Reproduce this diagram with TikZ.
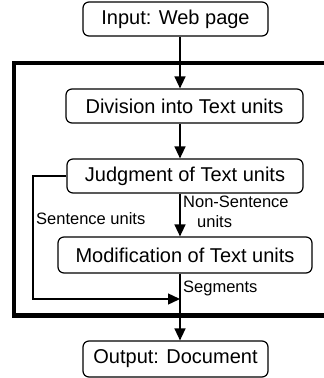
\documentclass[tikz,border=0pt]{standalone}
\usepackage{fontspec}
\setmainfont{Liberation Sans}
\usetikzlibrary{positioning,arrows.meta}

\tikzset{
  stage/.style={draw, rounded corners=6pt, line width=1.2pt, minimum height=34pt,
    inner sep=0pt, font=\fontsize{20}{24}\selectfont},
  flow/.style={line width=1.4pt, -{Triangle[length=12pt,width=11pt]}},
  tag/.style={inner sep=0pt, font=\fontsize{16.5}{20}\selectfont},
}

\begin{document}
\begin{tikzpicture}[x=1pt, y=-1pt]
			\useasboundingbox (0,0) rectangle (324,378);
			\node [stage, minimum width=185pt] (inp) at (175.5,19) {Input: Web page};
			\node [stage, minimum width=237pt] (div) at (184.5,106) {Division into Text units};
			\node [stage, minimum width=236pt] (judg) at (185,176) {Judgment of Text units};
			\node [stage, minimum width=254pt, minimum height=36pt] (mod) at (185,255) {Modification of Text units};
			\node [stage, minimum width=185pt, minimum height=36pt] (out) at (175.5,359) {Output: Document};
			% frame, open to the right
			\draw [line width=4.5pt] (330,63) -- (14,63) -- (14,315.5) -- (330,315.5);
			\coordinate (spine) at (180,0);
			\coordinate (bend) at (33,299);
			\draw [flow] (inp.south -| spine) -- (div.north -| spine);
			\draw [flow] (div.south -| spine) -- (judg.north -| spine);
			\draw [flow] (judg.south -| spine) -- (mod.north -| spine);
			\draw [flow] (mod.south -| spine) -- (out.north -| spine);
			\draw [flow] (judg.west) -| (bend) -- (bend -| spine);
			\node [tag, anchor=base west] (sentlbl) at (36,224) {Sentence units};
			\node [tag, anchor=north west, align=left] (nonlbl) at (183,195.5) {Non-Sentence\\\hspace{14pt}units};
			\node [tag, anchor=base west] (seglbl) at (183,292) {Segments};
		\end{tikzpicture}
\end{document}
